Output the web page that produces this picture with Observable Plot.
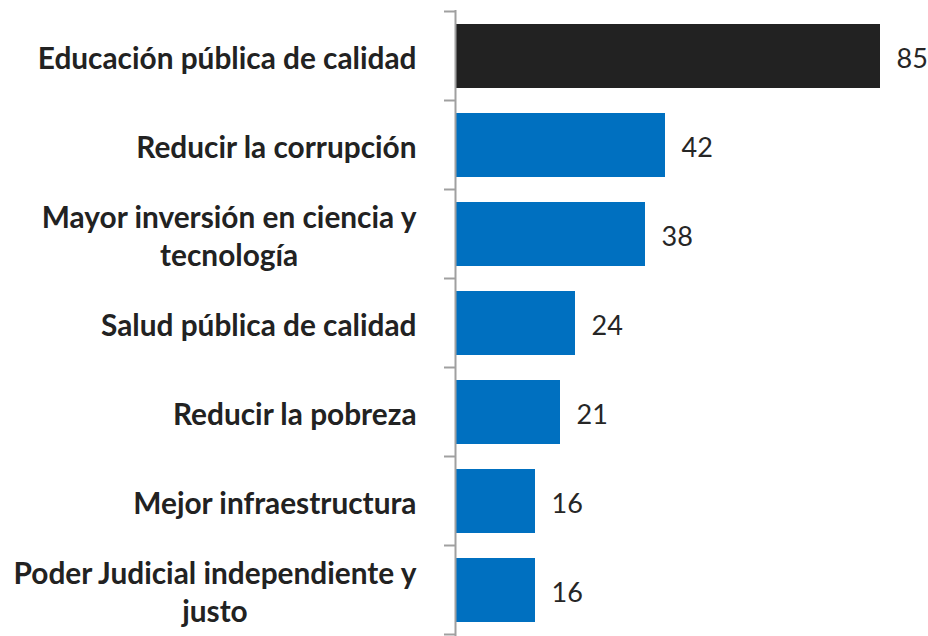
<!DOCTYPE html>
<html>
<head>
<meta charset="utf-8">
<script src="https://cdn.jsdelivr.net/npm/d3@7"></script>
<script src="https://cdn.jsdelivr.net/npm/@observablehq/plot@0.6"></script>
<style>
  html, body { margin: 0; padding: 0; background: #fff; }
  #chart svg { display: block; }
</style>
</head>
<body>
<div id="chart"></div>
<script>
const categories = [
  "Educación pública de calidad",
  "Reducir la corrupción",
  "Mayor inversión en ciencia y tecnología",
  "Salud pública de calidad",
  "Reducir la pobreza",
  "Mejor infraestructura",
  "Poder Judicial independiente y justo"
];
const labels = [
  "Educación pública de calidad",
  "Reducir la corrupción",
  "Mayor inversión en ciencia y\ntecnología",
  "Salud pública de calidad",
  "Reducir la pobreza",
  "Mejor infraestructura",
  "Poder Judicial independiente y\njusto"
];
const values = [85, 42, 38, 24, 21, 16, 16];
const highlight = [true, false, false, false, false, false, false];

const data = categories.map((c, i) => ({cat: c, label: labels[i], value: values[i], hi: highlight[i]}));

const chart = Plot.plot({
  width: 928,
  height: 636,
  marginLeft: 455,
  marginRight: 48,
  marginTop: 10,
  marginBottom: 0,
  style: {fontFamily: "Lato, sans-serif", background: "#fff"},
  x: {domain: [0, 85], axis: null},
  y: {domain: categories, axis: null, paddingInner: 0.284, paddingOuter: 0.142},
  marks: [
    Plot.barX(data, {x: "value", y: "cat", fill: d => d.hi ? "#222222" : "#0070C0"}),
    Plot.ruleX([0], {stroke: "#a0a0a0", strokeWidth: 2}),
    Plot.text(data, {x: 0, y: "cat", text: "label", textAnchor: "end", dx: -39, fontSize: 29.8, fontWeight: "bold", fill: "#222", lineHeight: 1.3}),
    Plot.text(data, {x: "value", y: "cat", text: d => String(d.value), textAnchor: "start", dx: 16, dy: 3, fontSize: 27, fill: "#262626"})
  ]
});
document.getElementById("chart").appendChild(chart);

// axis ticks at the band boundaries, derived from the scales
const ys = chart.scale("y");
const xs = chart.scale("x");
const x0 = xs.apply(0);
const gap = (ys.step - ys.bandwidth) / 2;
const bounds = categories.map(c => ys.apply(c) - gap);
bounds.push(ys.apply(categories[categories.length - 1]) + ys.bandwidth + gap);
const svg = d3.select(chart);
svg.append("g").selectAll("line").data(bounds).join("line")
  .attr("x1", x0 - 11).attr("x2", x0)
  .attr("y1", d => d).attr("y2", d => d)
  .attr("stroke", "#a0a0a0").attr("stroke-width", 2);

// center multi-line labels within their block
svg.selectAll("text").each(function() {
  const spans = this.querySelectorAll("tspan");
  if (spans.length > 1) {
    const w = this.getBBox().width;
    this.setAttribute("text-anchor", "middle");
    spans.forEach(s => s.setAttribute("x", -w / 2));
  }
});
</script>
</body>
</html>
